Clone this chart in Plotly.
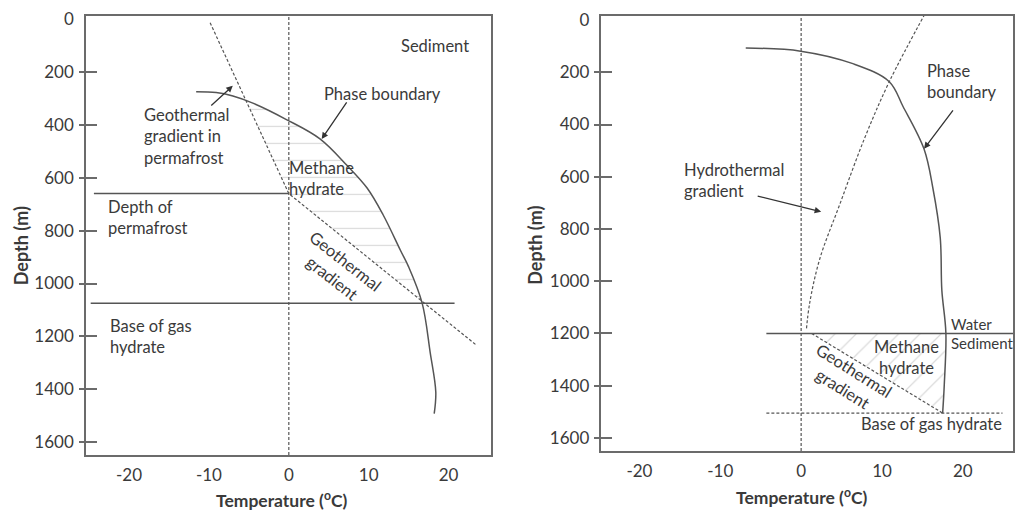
import numpy as np
import plotly.graph_objects as go

W, H = 1015, 512

# ---------------- data ----------------
depth_ticks = [0, 200, 400, 600, 800, 1000, 1200, 1400, 1600]
depth_tick_text = [str(v) for v in depth_ticks]
depth_tick_marks = [200, 400, 600, 800, 1000, 1200, 1400, 1600]
temp_ticks = [-20, -10, 0, 10, 20]
temp_tick_text = ["-20", "-10", "0", "10", "20"]

# Left panel: permafrost setting
perma_phase_T = [-11.6, -9.1, -7.0, -4.5, -0.3, 3.9, 7.3, 9.8, 11.8, 14.0, 15.0, 16.7, 17.7, 18.4, 18.2]
perma_phase_D = [275, 278, 291, 318, 380, 453, 554, 639, 740, 876, 937, 1075, 1261, 1410, 1492]
perma_geo_T = [-9.85, 0.0, 23.4]
perma_geo_D = [14, 660, 1231]
permafrost_depth = 660
permafrost_T = [-24.4, 0.0]
perma_base_depth = 1075
perma_base_T = [-24.8, 20.75]

# Right panel: marine setting
marine_phase_T = [-6.85, -0.06, 6.4, 10.9, 12.6, 15.2, 16.3, 17.2, 17.4, 17.9, 17.7, 17.5]
marine_phase_D = [107, 119, 167, 236, 331, 494, 645, 833, 1034, 1198, 1397, 1505]
marine_hydro_T = [15.6, 10.9, 7.8, 4.75, 2.3, 1.05, 0.64]
marine_hydro_D = [-40, 236, 456, 708, 915, 1085, 1188]
marine_geo_T = [1.3, 17.5]
marine_geo_D = [1200, 1505]
seafloor_depth = 1200
seafloor_T = [-4.3, 26.5]
marine_base_depth = 1505
marine_base_T = [-4.3, 24.9]

# ---------------- styling ----------------
LINE = "#555555"
AXIS = "#6b6b6b"
TEXT = "#3a3a3a"
HATCH = "#b5b5b5"
FONT = "Lato"

fig = go.Figure()


def line_trace(x, y, xa, ya, dash=None, width=1.5, color=LINE, smooth=False):
    ln = dict(color=color, width=width, dash=dash)
    if smooth:
        ln.update(shape="spline", smoothing=1.0)
    return go.Scatter(x=x, y=y, xaxis=xa, yaxis=ya, mode="lines", line=ln,
                      showlegend=False, hoverinfo="skip")


def hatch_polygon(d_grid, left_D, left_T, right_D, right_T):
    xl = np.interp(d_grid, left_D, left_T)
    xr = np.interp(d_grid, right_D, right_T)
    m = xr >= xl
    xs = np.concatenate([xl[m], xr[m][::-1]])
    ys = np.concatenate([d_grid[m], d_grid[m][::-1]])
    return xs, ys


# ---- left panel hatch (horizontal lines)
hx, hy = hatch_polygon(np.linspace(250, perma_base_depth, 300),
                       perma_geo_D, perma_geo_T, perma_phase_D, perma_phase_T)
fig.add_trace(go.Scatter(x=hx, y=hy, xaxis="x", yaxis="y", mode="lines", fill="toself",
                         fillcolor="rgba(0,0,0,0)", line=dict(width=0),
                         fillpattern=dict(shape="-", fgcolor=HATCH, bgcolor="rgba(0,0,0,0)",
                                          size=17, solidity=0.07),
                         showlegend=False, hoverinfo="skip"))

# ---- right panel hatch (diagonal lines)
hx2, hy2 = hatch_polygon(np.linspace(seafloor_depth, marine_base_depth, 300),
                         marine_geo_D, marine_geo_T, marine_phase_D, marine_phase_T)
fig.add_trace(go.Scatter(x=hx2, y=hy2, xaxis="x2", yaxis="y2", mode="lines", fill="toself",
                         fillcolor="rgba(0,0,0,0)", line=dict(width=0),
                         fillpattern=dict(shape="/", fgcolor=HATCH, bgcolor="rgba(0,0,0,0)",
                                          size=15, solidity=0.08),
                         showlegend=False, hoverinfo="skip"))

# ---- left panel lines
fig.add_trace(line_trace(perma_phase_T, perma_phase_D, "x", "y", width=1.5, smooth=True))
fig.add_trace(line_trace(perma_geo_T, perma_geo_D, "x", "y", dash="3px,2px", width=1.2))
fig.add_trace(line_trace(permafrost_T, [permafrost_depth] * 2, "x", "y", width=1.5))
fig.add_trace(line_trace(perma_base_T, [perma_base_depth] * 2, "x", "y", width=1.5))

# ---- right panel lines
fig.add_trace(line_trace(marine_phase_T, marine_phase_D, "x2", "y2", width=1.5, smooth=True))
fig.add_trace(line_trace(marine_hydro_T, marine_hydro_D, "x2", "y2", dash="3px,2px", width=1.2,
                         smooth=True))
fig.add_trace(line_trace(marine_geo_T, marine_geo_D, "x2", "y2", dash="3px,2px", width=1.2))
fig.add_trace(line_trace(seafloor_T, [seafloor_depth] * 2, "x2", "y2", width=1.5))
fig.add_trace(line_trace(marine_base_T, [marine_base_depth] * 2, "x2", "y2", dash="3px,2px", width=1.2))

# placeholder traces for tick-only overlay axes
for ya, xa in [("y3", "x"), ("y4", "x"), ("y5", "x2"), ("y6", "x2")]:
    fig.add_trace(go.Scatter(x=[None], y=[None], xaxis=xa, yaxis=ya, showlegend=False,
                             hoverinfo="skip"))

# zero-degree dashed verticals
for xr, yr in [("x", "y domain"), ("x2", "y2 domain")]:
    fig.add_shape(type="line", xref=xr, yref=yr, x0=0, x1=0, y0=0, y1=1,
                  line=dict(color=LINE, width=1.2, dash="3px,2px"))

# ---------------- axes ----------------
L_dom = [86 / W, 491 / W]
R_dom = [602 / W, 1014 / W]
L_ydom = [1 - 454 / H, 1 - 8 / H]
R_ydom = [1 - 450 / H, 1 - 8 / H]
L_xrange = [-25.4, 25.25]
R_xrange = [-24.7, 26.2]
L_yrange = [1648, -12]
R_yrange = [1650, -16]

xcommon = dict(tickvals=temp_ticks, ticktext=temp_tick_text, ticks="", showgrid=False,
               zeroline=False, showline=True, linecolor=AXIS, linewidth=1.5, mirror=True,
               tickfont=dict(family=FONT, size=17, color=TEXT), ticklabelstandoff=4)
ycommon = dict(tickvals=depth_ticks, ticktext=depth_tick_text, ticks="", showgrid=False,
               zeroline=False, showline=True, linecolor=AXIS, linewidth=1.5, mirror=True,
               tickfont=dict(family=FONT, size=17, color=TEXT), ticklabelstandoff=7)
tickonly = dict(tickvals=depth_tick_marks, showticklabels=False, showgrid=False,
                zeroline=False, showline=False, tickcolor=AXIS, tickwidth=1.5, side="left")

fig.update_layout(
    xaxis=dict(domain=L_dom, range=L_xrange, anchor="y", **xcommon),
    yaxis=dict(domain=L_ydom, range=L_yrange, anchor="x", **ycommon),
    xaxis2=dict(domain=R_dom, range=R_xrange, anchor="y2", **xcommon),
    yaxis2=dict(domain=R_ydom, range=R_yrange, anchor="x2", **ycommon),
    yaxis3=dict(overlaying="y", anchor="x", range=L_yrange, ticks="outside", ticklen=6, **tickonly),
    yaxis4=dict(overlaying="y", anchor="x", range=L_yrange, ticks="inside", ticklen=11, **tickonly),
    yaxis5=dict(overlaying="y2", anchor="x2", range=R_yrange, ticks="outside", ticklen=6, **tickonly),
    yaxis6=dict(overlaying="y2", anchor="x2", range=R_yrange, ticks="inside", ticklen=11, **tickonly),
)


# ---------------- annotations ----------------
def P(x, y):
    return x / W, 1 - y / H


anns = []


def text(t, x, y, xanchor="left", align="left", size=16.5, bold=False, angle=0):
    px, py = P(x, y)
    tt = f"<b>{t}</b>" if bold else t
    anns.append(dict(text=tt, x=px, y=py, xref="paper", yref="paper", showarrow=False,
                     xanchor=xanchor, yanchor="middle", align=align, textangle=angle,
                     font=dict(family=FONT, size=size, color=TEXT)))


def arrow(tail, head):
    hx_, hy_ = P(*head)
    anns.append(dict(text="", x=hx_, y=hy_, xref="paper", yref="paper", showarrow=True,
                     ax=tail[0] - head[0], ay=tail[1] - head[1], axref="pixel", ayref="pixel",
                     arrowhead=2, arrowsize=1, arrowwidth=1.3, arrowcolor="#333333"))


# left panel texts
text("Sediment", 435, 39, xanchor="center")
text("Phase boundary", 383, 87, xanchor="center")
text("Geothermal<br>gradient in<br>permafrost", 142, 130.5)
text("Methane<br>hydrate", 287, 173.5)
text("Depth of<br>permafrost", 106, 212.5)
text("Geothermal<br>gradient", 339, 266, xanchor="center", align="center", angle=38)
text("Base of gas<br>hydrate", 108, 333.5)
arrow((348, 95), (322, 133))
arrow((210, 100), (233, 79))

# right panel texts
text("Phase<br>boundary", 926, 75)
text("Hydrothermal<br>gradient", 683, 175)
text("Water", 950, 321, size=15)
text("Sediment", 950, 340, size=15)
text("Methane<br>hydrate", 907, 355.5, xanchor="center", align="center")
text("Geothermal<br>gradient", 849, 377, xanchor="center", align="center", angle=32)
text("Base of gas hydrate", 932, 423, xanchor="center")
arrow((955, 103), (925, 143))
arrow((757, 191), (822, 207))

# axis titles
text("Depth (m)", 21, 241, xanchor="center", size=18, bold=True, angle=-90)
text("Depth (m)", 536, 241, xanchor="center", size=18, bold=True, angle=-90)
text("Temperature (<sup>o</sup>C)", 282, 499, xanchor="center", size=17.5, bold=True)
text("Temperature (<sup>o</sup>C)", 803, 496, xanchor="center", size=17.5, bold=True)

fig.update_layout(
    annotations=anns,
    width=W, height=H,
    margin=dict(l=0, r=0, t=0, b=0),
    paper_bgcolor="white", plot_bgcolor="white",
    showlegend=False,
    font=dict(family=FONT, color=TEXT),
)

fig.write_html("out.html")
